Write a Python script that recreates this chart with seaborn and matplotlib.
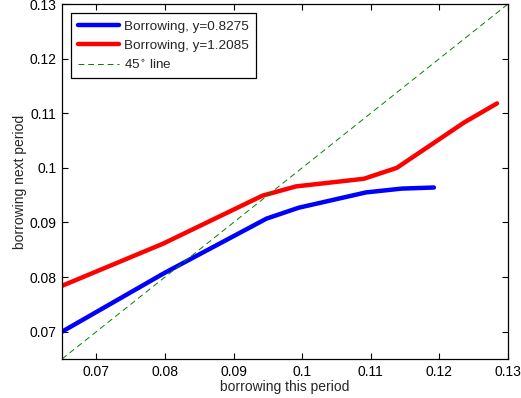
import matplotlib
matplotlib.use("Agg")
import matplotlib.pyplot as plt
import seaborn as sns
import pandas as pd
import numpy as np

# Data
blue_x = [0.065, 0.0800, 0.0948, 0.0995, 0.1093, 0.1145, 0.1192]
blue_y = [0.0700, 0.0808, 0.0907, 0.0927, 0.0955, 0.0962, 0.0964]
red_x = [0.065, 0.0797, 0.0942, 0.0991, 0.1090, 0.1138, 0.1236, 0.1284]
red_y = [0.0784, 0.0861, 0.0949, 0.0966, 0.0980, 0.1000, 0.1083, 0.1118]
diag = [0.065, 0.13]
xticks = [0.07, 0.08, 0.09, 0.1, 0.11, 0.12, 0.13]
yticks = [0.07, 0.08, 0.09, 0.1, 0.11, 0.12, 0.13]
tick_labels = ["0.07", "0.08", "0.09", "0.1", "0.11", "0.12", "0.13"]

sns.set_theme(style="white")
plt.rcParams['font.family'] = ['Liberation Sans', 'DejaVu Sans']

fig = plt.figure(figsize=(5.21, 3.98), dpi=100)
ax = fig.add_axes([62/521, 1 - 359/398, (508 - 62)/521, (359 - 4)/398])

df_b = pd.DataFrame({"x": blue_x, "y": blue_y})
df_r = pd.DataFrame({"x": red_x, "y": red_y})
df_d = pd.DataFrame({"x": diag, "y": diag})

sns.lineplot(data=df_b, x="x", y="y", ax=ax, color="#0000ff", lw=3.2,
             label="Borrowing, y=0.8275", sort=False)
sns.lineplot(data=df_r, x="x", y="y", ax=ax, color="#ff0000", lw=3.2,
             label="Borrowing, y=1.2085", sort=False)
sns.lineplot(data=df_d, x="x", y="y", ax=ax, color="#008000", lw=0.7,
             label=r"45$^{\circ}$ line", sort=False, dashes=False)
ax.lines[-1].set_dashes([6, 4])

ax.set_xlim(0.065, 0.13)
ax.set_ylim(0.065, 0.13)
ax.set_xticks(xticks)
ax.set_xticklabels(tick_labels)
ax.set_yticks(yticks)
ax.set_yticklabels(tick_labels)
ax.tick_params(direction="in", length=4, width=0.8, top=True, right=True,
               labelsize=10, colors="black", pad=4,
               bottom=True, left=True)
for s in ax.spines.values():
    s.set_visible(True)
    s.set_color("black")
    s.set_linewidth(0.9)
ax.set_xlabel("borrowing this period", fontsize=10, labelpad=1)
ax.set_ylabel("borrowing next period", fontsize=10, labelpad=2)

leg = ax.legend(loc="upper left", fontsize=9.7, frameon=True, fancybox=False,
                edgecolor="black", borderaxespad=0.7, handlelength=3.0,
                borderpad=0.5, labelspacing=0.5, handletextpad=0.4)
leg.get_frame().set_linewidth(0.9)
leg.get_frame().set_alpha(1)

fig.savefig("out.png", dpi=100)
